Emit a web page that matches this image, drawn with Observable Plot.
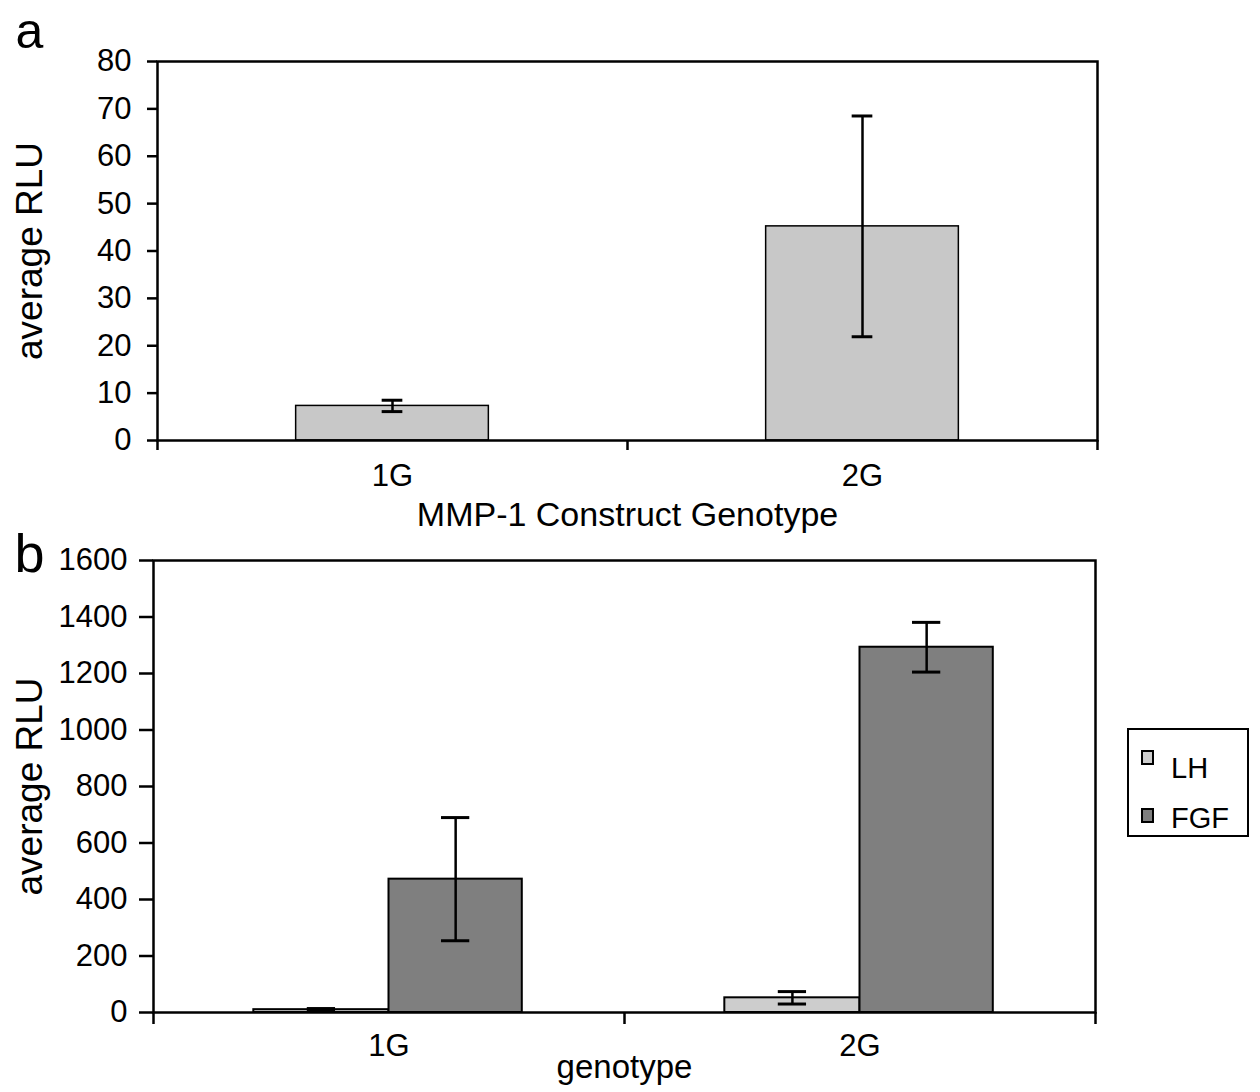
<!DOCTYPE html>
<html>
<head>
<meta charset="utf-8">
<script src="https://cdn.jsdelivr.net/npm/d3@7"></script>
<script src="https://cdn.jsdelivr.net/npm/@observablehq/plot@0.6"></script>
<style>
  body { margin: 0; background: #fff; font-family: "Liberation Sans", Arial, sans-serif; }
  #wrap { position: relative; width: 1260px; height: 1092px; overflow: hidden; background: #fff; }
  #wrap > svg, #wrap > figure { position: absolute; left: 0; margin: 0; }
  #legend { position: absolute; left: 1127px; top: 728px; width: 118px; height: 105px; border: 2.5px solid #000; background: #fff; }
  .sw { position: absolute; width: 9px; height: 11px; border: 2.5px solid #000; }
  .lt { position: absolute; font-size: 29px; line-height: 1; color: #000; }
</style>
</head>
<body>
<div id="wrap"></div>
<script>
// ---------- Panel a data ----------
const panelAGenotypes = ["1G", "2G"];
const panelAValues = [7.3, 45.2];
const panelAErrors = [1.2, 23.3];
const panelATicks = [0, 10, 20, 30, 40, 50, 60, 70, 80];

// ---------- Panel b data ----------
const panelBGenotypes = ["1G", "2G"];
const panelBSeries = ["LH", "FGF"];
const lhValues = [10, 52];
const lhErrors = [4, 22];
const fgfValues = [472, 1293];
const fgfErrors = [218, 88];
const panelBTicks = [0, 200, 400, 600, 800, 1000, 1200, 1400, 1600];

// ---------- Labels & colours ----------
const yLabel = "average RLU";
const panelAXLabel = "MMP-1 Construct Genotype";
const panelBXLabel = "genotype";
const panelABarColor = "#c8c8c8";
const seriesColors = ["#cdcdcd", "#7f7f7f"];

const FONT = '"Liberation Sans", Arial, sans-serif';
const wrap = document.getElementById("wrap");
const plain = d => String(d);

// ---------- Panel a ----------
const aData = panelAGenotypes.map((g, i) => ({ g, i, v: panelAValues[i], e: panelAErrors[i] }));
const aBar = [0.295, 0.705];
const aCap = 0.022;

const plotA = Plot.plot({
  width: 1260, height: 540,
  marginLeft: 157, marginRight: 163, marginTop: 61, marginBottom: 100,
  style: { fontFamily: FONT, fontSize: "29px", color: "#000", background: "transparent", overflow: "visible" },
  x: { domain: [0, 2] },
  y: { domain: [0, 80] },
  marks: [
    Plot.rectY(aData, { x1: d => d.i + aBar[0], x2: d => d.i + aBar[1], y1: 0, y2: "v", fill: panelABarColor, stroke: "#000", strokeWidth: 1.5 }),
    Plot.frame({ stroke: "#000", strokeWidth: 2.5 }),
    Plot.ruleX(aData, { x: d => d.i + 0.5, y1: d => d.v - d.e, y2: d => d.v + d.e, stroke: "#000", strokeWidth: 2.5 }),
    Plot.ruleY(aData, { y: d => d.v + d.e, x1: d => d.i + 0.5 - aCap, x2: d => d.i + 0.5 + aCap, stroke: "#000", strokeWidth: 3 }),
    Plot.ruleY(aData, { y: d => d.v - d.e, x1: d => d.i + 0.5 - aCap, x2: d => d.i + 0.5 + aCap, stroke: "#000", strokeWidth: 3 }),
    Plot.axisY({ ticks: panelATicks, tickSize: 10, tickPadding: 16, strokeWidth: 2.5, tickFormat: plain, fontSize: 31, label: null }),
    Plot.axisX({ ticks: [0, 1, 2], tickSize: 10, tickFormat: () => "", strokeWidth: 2.5, label: null }),
    Plot.axisX({ ticks: [0.5, 1.5], tickSize: 0, tickPadding: 23, tickFormat: v => panelAGenotypes[Math.floor(v)], fontSize: 31, label: null }),
    Plot.text([yLabel], { text: d => d, frameAnchor: "left", textAnchor: "middle", dx: -127, rotate: -90, fontSize: 37 }),
    Plot.text([panelAXLabel], { text: d => d, frameAnchor: "bottom", dy: 85, fontSize: 34 }),
    Plot.text(["a"], { text: d => d, frameAnchor: "top-left", textAnchor: "start", dx: -142, dy: -49, fontSize: 50 })
  ]
});
plotA.style.top = "0px";
wrap.appendChild(plotA);

// ---------- Panel b ----------
const bData = [];
panelBGenotypes.forEach((g, i) => {
  bData.push({ g, i, s: panelBSeries[0], k: 0, v: lhValues[i], e: lhErrors[i] });
  bData.push({ g, i, s: panelBSeries[1], k: 1, v: fgfValues[i], e: fgfErrors[i] });
});
const bGroup = [0.213, 0.5, 0.783]; // LH from [0]-[1], FGF from [1]-[2]
const bCenter = d => d.i + (bGroup[d.k] + bGroup[d.k + 1]) / 2;
const bCap = 0.03;

const plotB = Plot.plot({
  width: 1260, height: 552,
  marginLeft: 153, marginRight: 165, marginTop: 20, marginBottom: 80,
  style: { fontFamily: FONT, fontSize: "29px", color: "#000", background: "transparent", overflow: "visible" },
  x: { domain: [0, 2] },
  y: { domain: [0, 1600] },
  color: { domain: panelBSeries, range: seriesColors },
  marks: [
    Plot.rectY(bData, { x1: d => d.i + bGroup[d.k], x2: d => d.i + bGroup[d.k + 1], y1: 0, y2: "v", fill: "s", stroke: "#000", strokeWidth: 2 }),
    Plot.frame({ stroke: "#000", strokeWidth: 2.5 }),
    Plot.ruleX(bData, { x: bCenter, y1: d => d.v - d.e, y2: d => d.v + d.e, stroke: "#000", strokeWidth: 2.5 }),
    Plot.ruleY(bData, { y: d => d.v + d.e, x1: d => bCenter(d) - bCap, x2: d => bCenter(d) + bCap, stroke: "#000", strokeWidth: 3 }),
    Plot.ruleY(bData, { y: d => Math.max(0, d.v - d.e), x1: d => bCenter(d) - bCap, x2: d => bCenter(d) + bCap, stroke: "#000", strokeWidth: 3 }),
    Plot.axisY({ ticks: panelBTicks, tickSize: 14, tickPadding: 12, strokeWidth: 2.5, tickFormat: plain, fontSize: 31, label: null }),
    Plot.axisX({ ticks: [0, 1, 2], tickSize: 12, tickFormat: () => "", strokeWidth: 2.5, label: null }),
    Plot.axisX({ ticks: [0.5, 1.5], tickSize: 0, tickPadding: 21, tickFormat: v => panelBGenotypes[Math.floor(v)], fontSize: 31, label: null }),
    Plot.text([yLabel], { text: d => d, frameAnchor: "left", textAnchor: "middle", dx: -123, rotate: -90, fontSize: 37 }),
    Plot.text([panelBXLabel], { text: d => d, frameAnchor: "bottom", dy: 65, fontSize: 33 }),
    Plot.text(["b"], { text: d => d, frameAnchor: "top-left", textAnchor: "start", dx: -139, dy: -27, fontSize: 54 })
  ]
});
plotB.style.top = "540px";
wrap.appendChild(plotB);

// ---------- Legend (panel b) ----------
const legend = document.createElement("div");
legend.id = "legend";
const rowTops = [20, 78];
panelBSeries.forEach((s, k) => {
  const sw = document.createElement("div");
  sw.className = "sw";
  sw.style.left = "12px";
  sw.style.top = rowTops[k] + "px";
  sw.style.background = seriesColors[k];
  legend.appendChild(sw);
  const t = document.createElement("div");
  t.className = "lt";
  t.style.left = "42px";
  t.style.top = (rowTops[k] + (k === 0 ? 4 : -4)) + "px";
  t.textContent = s;
  legend.appendChild(t);
});
wrap.appendChild(legend);
</script>
</body>
</html>
